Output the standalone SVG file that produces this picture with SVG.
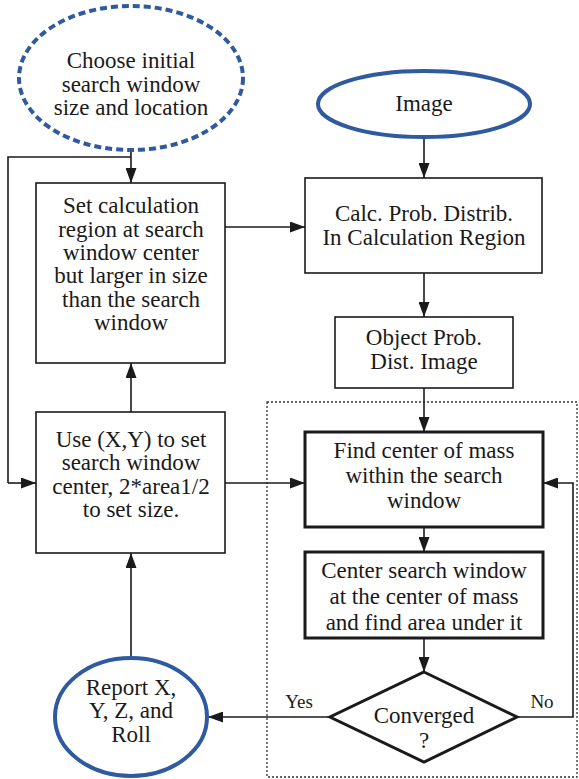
<svg xmlns="http://www.w3.org/2000/svg" width="579" height="779" viewBox="0 0 579 779">
<style>
  text { font-family: "Liberation Serif", "Times New Roman", serif; font-size: 23px; fill: #1a1a1a; text-anchor: middle; }
  .lbl { font-size: 19px; }
  .box { fill: #ffffff; stroke: #1a1a1a; stroke-width: 1.6; }
  .thick { fill: #ffffff; stroke: #1a1a1a; stroke-width: 3; }
  .oval { fill: #ffffff; stroke: #2F5AA0; stroke-width: 4; }
  .dashoval { fill: #ffffff; stroke: #2F5AA0; stroke-width: 4; stroke-dasharray: 7 4; }
  .conn { fill: none; stroke: #1a1a1a; stroke-width: 1.6; marker-end: url(#arr); }
  .plain { fill: none; stroke: #1a1a1a; stroke-width: 1.6; }
  .frame { fill: none; stroke: #333333; stroke-width: 1.3; stroke-dasharray: 2 2; }
</style>
<defs>
  <marker id="arr" markerUnits="userSpaceOnUse" markerWidth="15" markerHeight="11" refX="15" refY="5.5" orient="auto">
    <path d="M0,0 L15,5.5 L0,11 z" fill="#1a1a1a"/>
  </marker>
</defs>
<rect width="579" height="779" fill="#ffffff"/>

<rect class="frame" x="267" y="402" width="310" height="375"/>

<g id="connectors">
  <path class="plain" d="M131,157 H8 V483"/>
  <path class="conn" d="M8,483 H36"/>
  <path class="conn" d="M131,152 V183"/>
  <path class="conn" d="M131,412 V363"/>
  <path class="conn" d="M131,657 V553"/>
  <path class="conn" d="M224,227 H305"/>
  <path class="conn" d="M424,138 V178"/>
  <path class="conn" d="M424,273 V317"/>
  <path class="conn" d="M424,388 V432"/>
  <path class="conn" d="M225,483 H305"/>
  <path class="conn" d="M424,527 V552"/>
  <path class="conn" d="M424,638 V672"/>
  <path class="conn" d="M330,717 H208"/>
  <path class="conn" d="M517,717 H573 V483 H543"/>
  <text class="lbl" x="299" y="708">Yes</text>
  <text class="lbl" x="542" y="708">No</text>
</g>

<g id="start">
  <ellipse class="dashoval" cx="131" cy="78" rx="112" ry="72"/>
  <text x="131" y="68">Choose initial</text>
  <text x="131" y="92">search window</text>
  <text x="131" y="115">size and location</text>
</g>

<g id="setcalc">
  <rect class="box" x="36" y="183" width="189" height="180"/>
  <text x="131" y="213">Set calculation</text>
  <text x="131" y="237">region at search</text>
  <text x="131" y="260">window center</text>
  <text x="131" y="283">but larger in size</text>
  <text x="131" y="307">than the search</text>
  <text x="131" y="330">window</text>
</g>

<g id="usexy">
  <rect class="box" x="36" y="412" width="189" height="141"/>
  <text x="131" y="447">Use (X,Y) to set</text>
  <text x="131" y="470">search window</text>
  <text x="131" y="494">center, 2*area1/2</text>
  <text x="131" y="517">to set size.</text>
</g>

<g id="report">
  <ellipse class="oval" cx="131" cy="717" rx="76" ry="59"/>
  <text x="131" y="695">Report X,</text>
  <text x="131" y="718">Y, Z, and</text>
  <text x="131" y="742">Roll</text>
</g>

<g id="image">
  <ellipse class="oval" cx="424" cy="104" rx="106" ry="33"/>
  <text x="424" y="111">Image</text>
</g>

<g id="calcprob">
  <rect class="box" x="305" y="178" width="237" height="95"/>
  <text x="424" y="221">Calc. Prob. Distrib.</text>
  <text x="424" y="245">In Calculation Region</text>
</g>

<g id="objprob">
  <rect class="box" x="335" y="317" width="178" height="71"/>
  <text x="424" y="345">Object Prob.</text>
  <text x="424" y="369">Dist. Image</text>
</g>

<g id="findcenter">
  <rect class="thick" x="305" y="432" width="238" height="95"/>
  <text x="424" y="458">Find center of mass</text>
  <text x="424" y="483">within the search</text>
  <text x="424" y="508">window</text>
</g>

<g id="centerwin">
  <rect class="thick" x="305" y="552" width="238" height="86"/>
  <text x="424" y="578">Center search window</text>
  <text x="424" y="604">at the center of mass</text>
  <text x="424" y="630">and find area under it</text>
</g>

<g id="converged">
  <polygon class="thick" points="424,672 517,717 424,762 330,717"/>
  <text x="424" y="723">Converged</text>
  <text x="424" y="748">?</text>
</g>
</svg>
